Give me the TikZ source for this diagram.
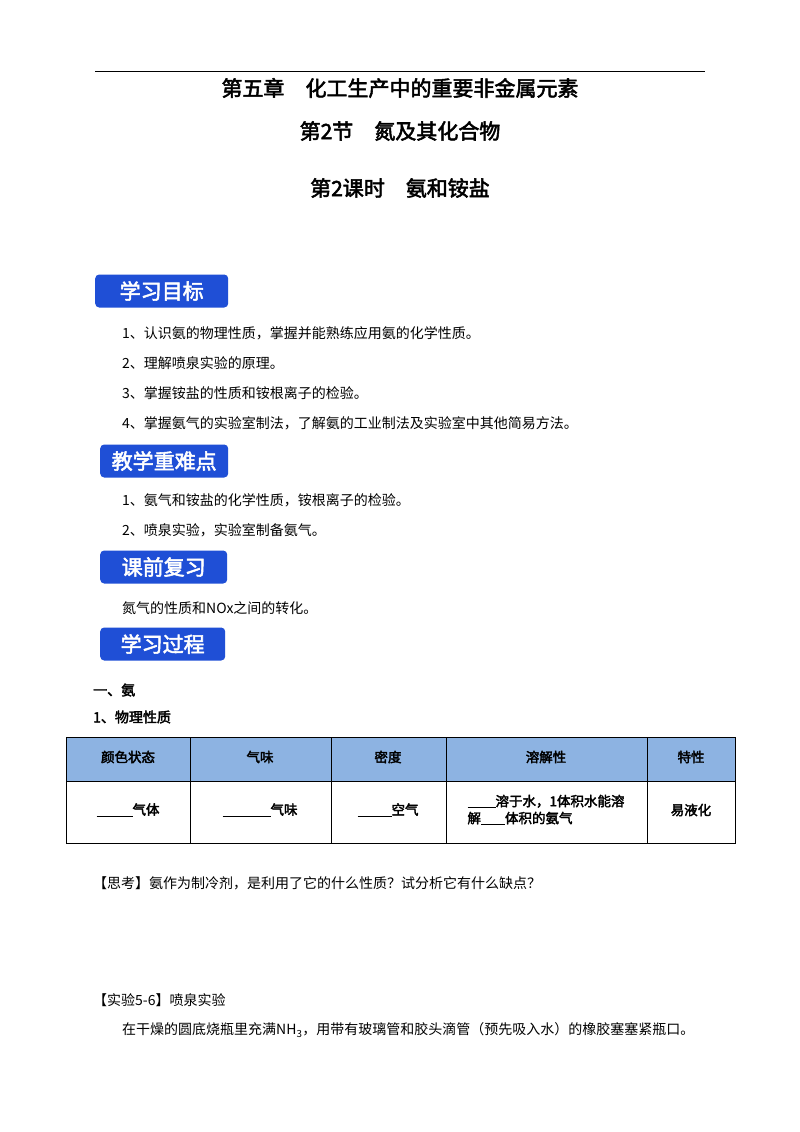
\documentclass[tikz,border=0pt]{standalone}
\usepackage{fontspec}
\setmainfont{Noto Sans CJK SC}
\newfontfamily\cjkbold[FakeBold=2.5]{Noto Sans CJK SC}
\definecolor{hdr}{HTML}{8DB3E2}
\definecolor{bannerblue}{HTML}{1F4FD6}
\begin{document}
\begin{tikzpicture}[x=1pt,y=-1pt,
  banner/.style={fill=bannerblue,rounded corners=4pt,minimum height=33pt,text=white,font=\cjkbold\fontsize{21}{21}\selectfont,anchor=west,inner sep=0pt},
  body/.style={anchor=west,font=\fontsize{14}{14}\selectfont,inner sep=0pt},
  ttl/.style={font=\cjkbold\fontsize{21}{21}\selectfont,inner sep=0pt},
  cell/.style={font=\cjkbold\fontsize{13.5}{17}\selectfont,inner sep=0pt,align=left}]
\useasboundingbox (0,0) rectangle (800,1132);
\fill[white] (0,0) rectangle (800,1132);
\draw[line width=1pt] (95,72) -- (705,72);
\node[ttl] (t1) at (400,88) {第五章\quad 化工生产中的重要非金属元素};
\node[ttl] (t2) at (400,131) {第2节\quad 氮及其化合物};
\node[ttl] (t3) at (400,188) {第2课时\quad 氨和铵盐};
\node[banner,minimum width=133pt] (b1) at (95,291) {学习目标};
\node[body] (l1) at (122,333) {1、认识氨的物理性质，掌握并能熟练应用氨的化学性质。};
\node[body] (l2) at (122,363) {2、理解喷泉实验的原理。};
\node[body] (l3) at (122,393) {3、掌握铵盐的性质和铵根离子的检验。};
\node[body] (l4) at (122,423) {4、掌握氨气的实验室制法，了解氨的工业制法及实验室中其他简易方法。};
\node[banner,minimum width=128pt] (b2) at (100,461) {教学重难点};
\node[body] (l5) at (122,500) {1、氨气和铵盐的化学性质，铵根离子的检验。};
\node[body] (l6) at (122,530) {2、喷泉实验，实验室制备氨气。};
\node[banner,minimum width=127pt] (b3) at (100,567) {课前复习};
\node[body] (l7) at (122,608) {氮气的性质和NOx之间的转化。};
\node[banner,minimum width=125pt] (b4) at (100,644) {学习过程};
\node[body,font=\cjkbold\fontsize{14}{14}\selectfont] (h1) at (93,690) {一、氨};
\node[body,font=\cjkbold\fontsize{14}{14}\selectfont] (h2) at (93,717) {1、物理性质};
\fill[hdr] (66,737) rectangle (735,781);
\draw[line width=0.6pt] (66,737) rectangle (735,843);
\draw[line width=0.6pt] (66,781) -- (735,781);
\foreach \x in {190,331,446,647} \draw[line width=0.6pt] (\x,737) -- (\x,843);
\node[cell] (c1) at (128,757) {颜色状态};
\node[cell] (c2) at (260,757) {气味};
\node[cell] (c3) at (388,757) {密度};
\node[cell] (c4) at (546,757) {溶解性};
\node[cell] (c5) at (691,757) {特性};
\node[cell] (d1) at (128,810) {\underline{\hspace{36pt}}气体};
\node[cell] (d2) at (260,810) {\underline{\hspace{48pt}}气味};
\node[cell] (d3) at (388,810) {\underline{\hspace{34pt}}空气};
\node[cell] (d4) at (546,810) {\underline{\hspace{28pt}}溶于水，1体积水能溶\\解\underline{\hspace{24pt}}体积的氨气};
\node[cell] (d5) at (691,810) {易液化};
\node[body] (q) at (93,883) {【思考】氨作为制冷剂，是利用了它的什么性质？试分析它有什么缺点？};
\node[body] (e) at (93,1000) {【实验5-6】喷泉实验};
\node[body] (e2) at (122,1030) {在干燥的圆底烧瓶里充满NH\textsubscript{3}，用带有玻璃管和胶头滴管（预先吸入水）的橡胶塞塞紧瓶口。};
\end{tikzpicture}
\end{document}
